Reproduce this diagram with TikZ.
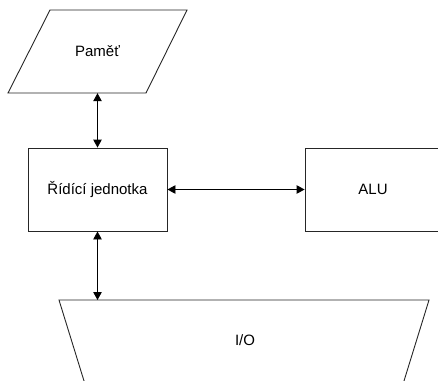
\documentclass[tikz,border=0pt]{standalone}
\usepackage{fontspec}
\setmainfont{Liberation Sans}
\usetikzlibrary{arrows.meta}
\begin{document}
\begin{tikzpicture}[x=1pt,y=-1pt,
  outline/.style={draw=black!85, line width=0.9pt},
  block/.style={outline, rectangle, minimum width=139pt, minimum height=83pt, inner sep=0pt, font=\fontsize{15}{18}\selectfont},
  shapebox/.style={rectangle, inner sep=0pt, font=\fontsize{15}{18}\selectfont},
  link/.style={draw=black, line width=0.9pt, {Triangle[length=8pt,width=8.5pt]}-{Triangle[length=8pt,width=8.5pt]}}]
  % page frame; everything outside is cut off
  \clip (0,0) rectangle (438,380);

  % memory: parallelogram
  \draw[outline] (8,93) -- (50,10) -- (187,10) -- (146,93) -- cycle;
  \node[shapebox, minimum width=96pt, minimum height=83pt] (mem) at (97.5,51.5) {Paměť};

  % control unit and ALU
  \node[block] (ctrl) at (97.5,189.5) {Řídící jednotka};
  \node[block, minimum width=136pt] (alu) at (373,189.5) {ALU};

  % input/output: trapezoid running off the bottom
  \draw[outline] (59,300) -- (429,300) -- (395,410) -- (93,410) -- cycle;
  \node[shapebox, minimum width=300pt, minimum height=80pt] (io) at (245,340) {I/O};

  % connections
  \draw[link] (mem.south) -- (ctrl.north);
  \draw[link] (ctrl.east) -- (alu.west);
  \draw[link] (ctrl.south) -- (ctrl.south |- 0,300);
\end{tikzpicture}
\end{document}
